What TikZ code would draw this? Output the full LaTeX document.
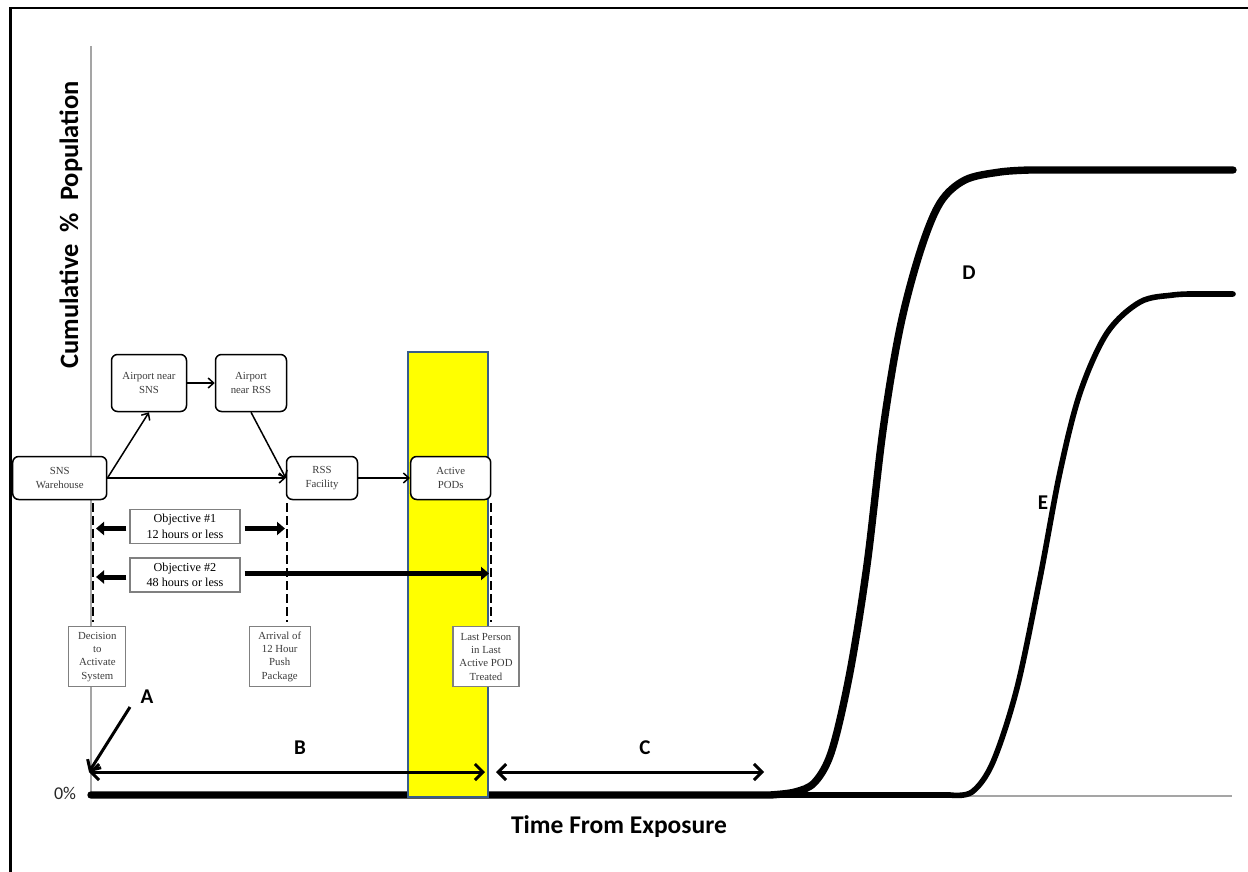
\documentclass[tikz,border=0pt]{standalone}
\usepackage{fontspec}
\setmainfont{Liberation Serif}
\newfontfamily\calibri{Carlito}
\usetikzlibrary{arrows.meta}
\definecolor{bandedge}{RGB}{56,93,138}
\definecolor{bandfill}{RGB}{255,255,0}
\definecolor{axisgray}{RGB}{165,165,165}
\definecolor{boxgray}{RGB}{128,128,128}
\definecolor{textgray}{RGB}{60,60,60}
\begin{document}
\begin{tikzpicture}[x=1pt,y=-1pt,
  flow/.style={draw=black, line width=1.5pt, rounded corners=6pt, fill=white,
    align=center, inner sep=0pt, text=textgray,
    font=\fontsize{10.8}{13.5}\selectfont},
  objbox/.style={draw=boxgray, line width=1.4pt, fill=white, align=center,
    inner sep=0pt, minimum width=110pt, minimum height=34pt,
    font=\fontsize{12.2}{15.5}\selectfont},
  tagbox/.style={draw=boxgray, line width=1.1pt, fill=white, align=center,
    inner sep=0pt, minimum height=60pt, text=textgray,
    font=\fontsize{10.8}{13.3}\selectfont},
  link/.style={line width=1.5pt, -{Straight Barb[length=5.5pt,width=10pt]}},
  fat/.style={line width=5pt, -{Triangle[length=8pt,width=13pt]}},
  span/.style={line width=3pt,
    {Straight Barb[length=8pt,width=16pt]}-{Straight Barb[length=8pt,width=16pt]}},
  pointer/.style={line width=3pt, -{Straight Barb[length=8pt,width=16pt]}},
  guide/.style={line width=2.8pt, dash pattern=on 9pt off 4pt},
  letter/.style={font=\calibri\bfseries\fontsize{21}{21}\selectfont, inner sep=0pt},
  curvestyle/.style={line cap=round, line join=round}
]
\useasboundingbox (0,0) rectangle (1248,872);

% outer frame (top and left edges)
\draw[line width=2.8pt] (10.5,880) -- (10.5,8) -- (1260,8);

% axes
\draw[axisgray, line width=1.8pt] (91,46) -- (91,796) -- (1232,796);

% cumulative curves
\draw[curvestyle, line width=5.6pt] (91,795) -- (950,795)
  plot[smooth, tension=0.55] coordinates {(950,795) (972,792) (993,762) (1017,688)
    (1040,578) (1060,472) (1080,393) (1107,333) (1140,302) (1173,295) (1195,294)}
  -- (1233,294);
\draw[curvestyle, line width=7.4pt] (91,795) -- (770,795)
  plot[smooth, tension=0.55] coordinates {(770,795) (795,792) (815,782) (832,750)
    (850,672) (867,565) (883,430) (900,328) (920,252) (940,203) (965,180)
    (1000,172) (1030,170)}
  -- (1233,170);

% distribution band
\draw[bandedge, fill=bandfill, line width=2.8pt] (408,352) rectangle (488,797);

% axis texts
\node[rotate=90, font=\calibri\bfseries\fontsize{26.5}{26.5}\selectfont]
  (ylab) at (71,225) {Cumulative\hspace{6pt} \%\hspace{6pt} Population};
\node[font=\calibri\bfseries\fontsize{25.5}{25.5}\selectfont]
  (xlab) at (619,827) {Time From Exposure};
\node[font=\calibri\fontsize{18}{18}\selectfont, text=black!85]
  (zero) at (65,793) {0\%};

% supply chain
\node[flow, minimum width=94pt, minimum height=43pt] (sns) at (59.7,478) {SNS\\Warehouse};
\node[flow, minimum width=75pt, minimum height=57pt] (asns) at (149,383) {Airport near\\SNS};
\node[flow, minimum width=71pt, minimum height=57pt] (arss) at (251,383) {Airport\\near RSS};
\node[flow, minimum width=71pt, minimum height=43pt] (rss) at (322,478) {RSS\\Facility};
\node[flow, minimum width=80pt, minimum height=43pt] (pods) at (450.7,478) {Active\\PODs};

\draw[link] (sns.east) -- (asns.south);
\draw[link] (asns.east) -- (arss.west);
\draw[link] (arss.south) -- (rss.west);
\draw[link] (sns.east) -- (rss.west);
\draw[link] (rss.east) -- (pods.west);

% time markers
\coordinate (g1a) at (93,503);  \coordinate (g1b) at (93,622);
\coordinate (g2a) at (287,503); \coordinate (g2b) at (287,622);
\coordinate (g3a) at (491,503); \coordinate (g3b) at (491,622);
\draw[guide] (g1a) -- (g1b);
\draw[guide] (g2a) -- (g2b);
\draw[guide] (g3a) -- (g3b);

% objectives
\node[objbox] (obj1) at (185,526.5) {Objective \#1\\12 hours or less};
\node[objbox] (obj2) at (185,575) {Objective \#2\\48 hours or less};
\coordinate (o1l) at (96,528.5);  \coordinate (o1r) at (285,528.5);
\coordinate (o2l) at (96,577);    \coordinate (o2r) at (489,573.5);
\draw[fat] ([xshift=-3pt,yshift=-2pt]obj1.west) -- (o1l);
\draw[fat] ([xshift=4pt,yshift=-2pt]obj1.east) -- (o1r);
\draw[fat] ([xshift=-3pt,yshift=-2pt]obj2.west) -- (o2l);
\draw[fat] ([xshift=4pt,yshift=1.5pt]obj2.east) -- (o2r);

% milestone labels
\node[tagbox, minimum width=57pt] (decide) at (97.3,656.7) {Decision\\to\\Activate\\System};
\node[tagbox, minimum width=61pt] (arrive) at (279.7,656.7) {Arrival of\\12 Hour\\Push\\Package};
\node[tagbox, minimum width=66pt] (last) at (486,656.7) {Last Person\\in Last\\Active POD\\Treated};

% phase spans
\coordinate (aTail) at (130,707);
\coordinate (origin) at (89,772);
\coordinate (bEnd) at (485,772);
\coordinate (cStart) at (496,772);
\coordinate (cEnd) at (764,772);
\draw[pointer] (aTail) -- (origin);
\draw[span] (origin) -- (bEnd);
\draw[span] (cStart) -- (cEnd);

\node[letter] (la) at (147,697) {A};
\node[letter] (lb) at (300,748) {B};
\node[letter] (lc) at (645,748) {C};
\node[letter] (ld) at (969,273) {D};
\node[letter] (le) at (1043,503) {E};
\end{tikzpicture}
\end{document}
